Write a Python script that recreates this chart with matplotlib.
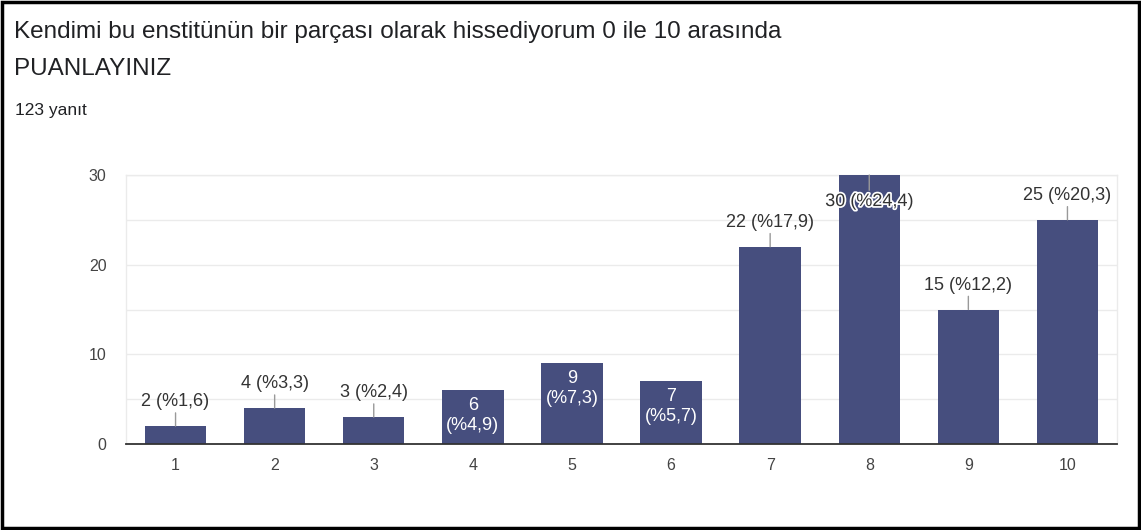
import matplotlib
matplotlib.use("Agg")
import matplotlib.pyplot as plt
from matplotlib.patches import Rectangle
import matplotlib.patheffects as pe

categories = ["1", "2", "3", "4", "5", "6", "7", "8", "9", "10"]
counts = [2, 4, 3, 6, 9, 7, 22, 30, 15, 25]
percents = ["1,6", "3,3", "2,4", "4,9", "7,3", "5,7", "17,9", "24,4", "12,2", "20,3"]
inside = [False, False, False, True, True, True, False, False, False, False]
title_line1 = "Kendimi bu enstitünün bir parçası olarak hissediyorum 0 ile 10 arasında"
title_line2 = "PUANLAYINIZ"
subtitle = "123 yanıt"
yticks = [0, 10, 20, 30]

plt.rcParams['font.family'] = ['Liberation Sans', 'DejaVu Sans']

fig = plt.figure(figsize=(11.41, 5.30), dpi=100)
fig.patch.set_facecolor('white')
fig.patches.append(Rectangle((0.0015, 0.003), 0.997, 0.994, transform=fig.transFigure,
                             fill=False, edgecolor='black', linewidth=2.5))

fig.text(14/1141, 1 - 32/530, title_line1, fontsize=17.5, color='#202124', va='center', ha='left')
fig.text(14/1141, 1 - 69/530, title_line2, fontsize=17.5, color='#202124', va='center', ha='left')
fig.text(15/1141, 1 - 110/530, subtitle, fontsize=12.5, color='#202124', va='center', ha='left')

ax = fig.add_axes([126/1141, 86/530, 991/1141, 269/530])
x = list(range(1, len(categories) + 1))
bar_color = '#464e7e'
ax.bar(x, counts, width=0.62, color=bar_color, zorder=3)
ax.set_xlim(0.5, len(categories) + 0.5)
ax.set_ylim(0, 30)
ax.set_yticks(yticks)
ax.set_yticks([5, 15, 25], minor=True)
ax.set_xticks(x)
ax.set_xticklabels(categories)
ax.grid(True, axis='y', which='both', color='#ebebeb', linewidth=1, zorder=0)
ax.tick_params(axis='both', which='both', length=0, labelsize=11.5, colors='#444444')
ax.tick_params(axis='x', pad=10)
ax.tick_params(axis='y', pad=14)
for s in ['left', 'right', 'top']:
    ax.spines[s].set_color('#ebebeb')
    ax.spines[s].set_linewidth(1)
ax.spines['bottom'].set_color('#333333')
ax.spines['bottom'].set_linewidth(1.3)
ax.spines['bottom'].set_zorder(4)

halo = [pe.withStroke(linewidth=2.5, foreground='white')]
for xi, c, p, ins in zip(x, counts, percents, inside):
    if ins:
        ax.annotate(f"{c}\n(%{p})", xy=(xi, c), xytext=(0, -5), textcoords='offset points',
                    ha='center', va='top', color='white', fontsize=13, linespacing=1.2, zorder=5)
    elif c >= ax.get_ylim()[1]:
        ax.annotate(f"{c} (%{p})", xy=(xi, c), xytext=(0, -13), textcoords='offset points',
                    ha='center', va='top', color='#333333', fontsize=13, zorder=5,
                    path_effects=halo,
                    arrowprops=dict(arrowstyle='-', color='#999999', lw=1, shrinkA=0, shrinkB=0),
                    annotation_clip=False)
    else:
        ax.annotate(f"{c} (%{p})", xy=(xi, c), xytext=(0, 11.5), textcoords='offset points',
                    ha='center', va='bottom', color='#333333', fontsize=13, zorder=5,
                    arrowprops=dict(arrowstyle='-', color='#999999', lw=1, shrinkA=0, shrinkB=0))

fig.savefig('out.png', dpi=100)
